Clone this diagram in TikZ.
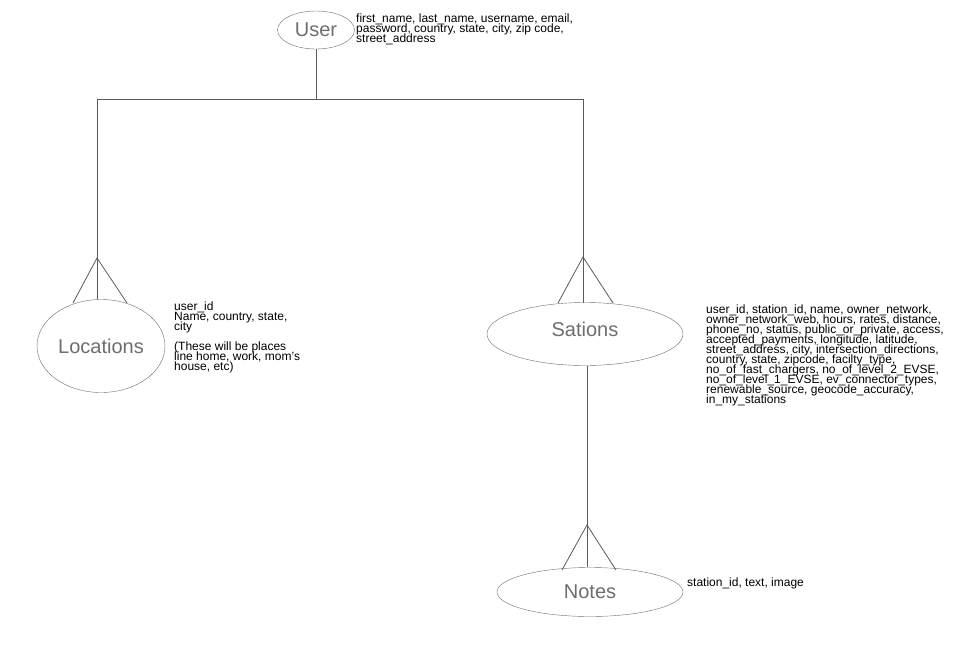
\documentclass[tikz,border=0pt]{standalone}
\usepackage{fontspec}
\setmainfont{Liberation Sans}
\usetikzlibrary{shapes.geometric}
\definecolor{entgray}{HTML}{6E6E6E}
\definecolor{linegray}{HTML}{5A5A5A}
\newcommand\myattrfont{\fontsize{12}{10}\selectfont\setlength{\lineskiplimit}{-20pt}\setlength{\lineskip}{0pt}}
\tikzset{
  entity/.style={draw=entgray, ellipse, inner sep=0pt, text=entgray,
    font=\fontsize{20}{24}\selectfont},
  attrs/.style={anchor=north west, inner sep=0pt, align=left,
    font=\myattrfont},
  conn/.style={draw=linegray, line width=0.8pt},
}
\begin{document}
\begin{tikzpicture}[x=1pt,y=-1pt]
\useasboundingbox (0,0) rectangle (961,651);
\fill[white] (0,0) rectangle (961,651);

% entities
\node[entity, minimum width=77pt, minimum height=38pt] (user) at (316,30) {User};
\node[entity, minimum width=128pt, minimum height=93pt] (loc) at (101,346) {Locations};
\node[entity, minimum width=196pt, minimum height=63pt] (sta) at (585,334) {\raisebox{9pt}{Sations}};
\node[entity, minimum width=186pt, minimum height=49pt] (notes) at (590,592) {\raisebox{-2pt}{Notes}};

% attributes
\node[attrs] (userattr) at (356,14) {first\_name, last\_name, username, email,\\password, country, state, city, zip code,\\street\_address};
\node[attrs] (locattr) at (174,302) {user\_id\\Name, country, state,\\city\\[10pt](These will be places\\line home, work, mom’s\\house, etc)};
\node[attrs] (staattr) at (706,305) {user\_id, station\_id, name, owner\_network,\\owner\_network\_web, hours, rates, distance,\\phone\_no, status, public\_or\_private, access,\\accepted\_payments, longitude, latitude,\\street\_address, city, intersection\_directions,\\country, state, zipcode, facilty\_type,\\no\_of\_fast\_chargers, no\_of\_level\_2\_EVSE,\\no\_of\_level\_1\_EVSE, ev\_connector\_types,\\renewable\_source, geocode\_accuracy,\\in\_my\_stations};
\node[attrs] (notesattr) at (687,578) {station\_id, text, image};

% junction coordinates
\coordinate (j) at (316,99);
\coordinate (jl) at (97,99);
\coordinate (jr) at (583,99);
\coordinate (loctop) at (97,299);
\coordinate (locapex) at (97,258);
\coordinate (locl) at (73,303);
\coordinate (locr) at (127,303);
\coordinate (statop) at (583,303);
\coordinate (staapex) at (583,257);
\coordinate (stal) at (558,303);
\coordinate (star) at (613,303);
\coordinate (stabot) at (587,366);
\coordinate (notestop) at (587,567);
\coordinate (notesapex) at (587,525);
\coordinate (notesl) at (562,570);
\coordinate (notesr) at (616,570);

% connectors
\draw[conn] (user.south) -- (j);
\draw[conn] (jl) -- (jr);
\draw[conn] (jl) -- (loctop);
\draw[conn] (locl) -- (locapex) -- (locr);
\draw[conn] (jr) -- (statop);
\draw[conn] (stal) -- (staapex) -- (star);
\draw[conn] (stabot) -- (notestop);
\draw[conn] (notesl) -- (notesapex) -- (notesr);
\end{tikzpicture}
\end{document}
